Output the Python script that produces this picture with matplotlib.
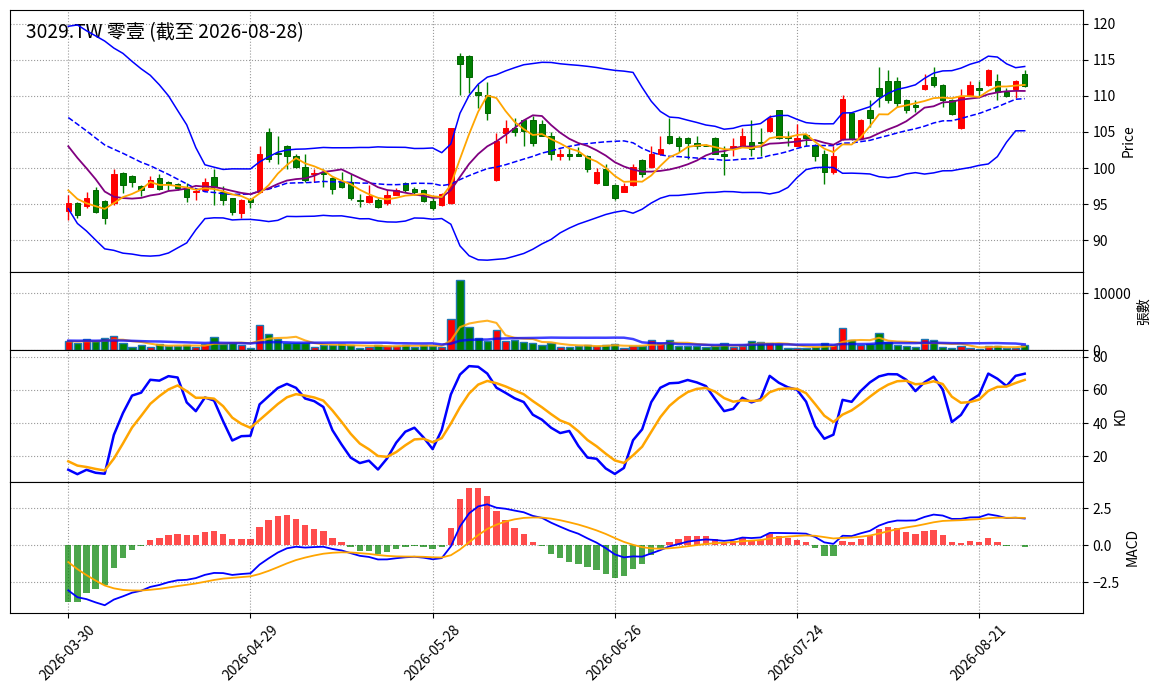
import numpy as np
import pandas as pd
import matplotlib
matplotlib.use('Agg')
import matplotlib.pyplot as plt

plt.rcParams['font.family'] = ['Noto Sans CJK TC', 'DejaVu Sans']

titulo = '3029.TW 零壹 (截至 2026-08-28)'
datas_ticks = ['2026-03-30', '2026-04-29', '2026-05-28', '2026-06-26', '2026-07-24', '2026-08-21']

# pregões anteriores (não desenhados), estimados para os indicadores começarem como no gráfico
pre_close = [103.5, 104.2, 105.0, 104.6, 105.8, 106.9, 107.5, 107.0, 108.3, 109.4, 110.1, 109.6,
             110.8, 111.9, 112.4, 112.0, 112.0, 114.5, 113.6, 112.5, 111.0, 109.0, 110.5, 109.4,
             108.0, 109.5, 109.6, 110.4, 109.0, 110.3, 106.4, 99.5, 98.9, 95.9, 95.0]
pre_high = [104.3, 105.0, 105.6, 105.5, 106.4, 107.6, 108.2, 108.0, 108.9, 110.1, 110.8, 110.5,
            111.4, 112.6, 113.1, 112.9, 113.0, 115.2, 114.8, 113.4, 112.2, 110.3, 111.1, 110.4,
            109.2, 110.0, 110.3, 111.0, 110.0, 110.9, 109.8, 103.0, 101.0, 98.5, 97.0]
pre_low = [102.8, 103.4, 104.3, 103.9, 104.9, 106.0, 106.8, 106.4, 107.3, 108.6, 109.3, 108.9,
           109.9, 111.0, 111.6, 111.2, 111.1, 113.2, 113.0, 111.8, 110.4, 108.6, 109.3, 108.7,
           107.5, 108.3, 108.9, 109.5, 108.3, 109.2, 105.8, 99.0, 97.8, 95.2, 94.2]
pre_volume = [1500, 1820, 1650, 1400, 1950, 1700, 1550, 1880, 1600, 1420, 1760, 1900, 1650,
              1580, 2000, 1450, 1620, 1540, 1620]

# 106 pregões desenhados
open_ = [94.0, 95.2, 94.7, 97.0, 95.4, 95.1, 99.3, 98.9, 97.5, 97.4,
         98.6, 98.1, 97.8, 97.4, 96.6, 97.0, 98.8, 96.7, 95.8, 93.8,
         95.7, 96.7, 105.0, 102.1, 103.1, 101.6, 100.1, 99.1, 99.4, 98.6,
         98.1, 98.1, 95.6, 95.3, 95.6, 95.2, 96.3, 97.9, 97.1, 97.0,
         95.4, 94.8, 95.1, 115.6, 115.6, 110.6, 110.1, 98.3, 104.9, 105.6,
         106.7, 106.7, 106.1, 104.5, 101.6, 102.0, 102.0, 101.7, 97.9, 99.8,
         97.7, 96.7, 97.7, 101.1, 100.1, 101.9, 104.5, 104.2, 104.2, 103.5,
         103.1, 104.2, 102.0, 102.8, 103.1, 103.6, 103.6, 105.1, 108.0, 104.3,
         103.1, 104.6, 103.2, 102.0, 99.4, 104.0, 107.7, 104.2, 108.0, 111.1,
         112.1, 112.1, 109.5, 108.7, 111.0, 112.6, 111.5, 109.5, 105.5, 110.2,
         111.1, 111.5, 112.1, 110.6, 111.0, 113.1]
high = [96.2, 95.3, 96.6, 97.4, 95.5, 99.8, 99.4, 99.0, 97.6, 98.9,
        99.2, 98.2, 97.9, 97.9, 97.2, 98.6, 99.8, 97.5, 95.9, 95.7,
        95.8, 103.1, 105.5, 104.5, 103.2, 102.0, 102.0, 99.8, 99.8, 98.7,
        99.5, 99.1, 96.4, 97.7, 95.8, 96.9, 97.2, 98.0, 97.4, 97.1,
        95.8, 96.5, 105.5, 116.0, 115.7, 111.7, 112.0, 104.8, 106.7, 107.0,
        106.8, 107.2, 106.6, 105.0, 102.6, 102.9, 102.9, 101.8, 100.0, 100.6,
        97.8, 97.9, 100.6, 101.2, 103.1, 104.5, 107.0, 104.5, 104.3, 104.5,
        103.3, 104.3, 103.1, 104.1, 105.5, 106.7, 105.6, 107.3, 108.1, 105.1,
        106.1, 104.7, 103.3, 102.5, 103.0, 110.1, 107.8, 106.8, 109.5, 114.0,
        113.6, 112.6, 109.6, 109.5, 113.1, 114.0, 111.6, 109.6, 111.0, 112.1,
        112.1, 113.7, 113.1, 111.1, 112.2, 113.6]
low = [92.8, 93.1, 94.4, 93.8, 92.2, 94.9, 96.5, 97.3, 96.1, 97.3,
       96.9, 96.9, 97.0, 95.3, 95.6, 96.9, 94.8, 94.8, 93.5, 93.1,
       94.5, 96.5, 100.9, 100.5, 99.8, 100.0, 98.0, 98.1, 97.4, 96.4,
       97.2, 95.6, 94.6, 95.1, 94.5, 94.8, 96.2, 96.7, 96.2, 95.3,
       94.1, 94.7, 95.0, 110.2, 110.4, 108.3, 106.6, 98.2, 103.5, 104.5,
       103.1, 103.0, 104.4, 101.1, 101.1, 101.1, 101.6, 99.5, 97.8, 97.6,
       95.6, 96.6, 97.5, 98.8, 100.0, 101.8, 103.4, 102.2, 101.2, 102.6,
       103.0, 101.9, 99.0, 101.6, 103.0, 101.6, 101.6, 105.0, 104.0, 103.0,
       103.0, 103.1, 101.0, 97.8, 99.2, 103.9, 103.9, 104.1, 105.7, 108.5,
       109.0, 108.5, 107.6, 107.8, 110.9, 111.2, 108.5, 107.4, 105.4, 110.1,
       110.0, 111.4, 109.5, 109.9, 109.7, 111.3]
close = [95.2, 93.5, 95.9, 93.9, 93.1, 99.2, 97.7, 98.1, 96.9, 98.4,
         97.1, 97.8, 97.2, 96.0, 96.8, 98.1, 97.3, 95.6, 93.9, 95.6,
         95.3, 102.0, 101.3, 101.9, 101.6, 100.1, 98.3, 99.3, 99.2, 97.1,
         97.3, 95.9, 95.4, 96.1, 94.6, 96.2, 97.0, 96.9, 96.6, 95.4,
         94.5, 96.4, 105.5, 114.5, 112.6, 110.1, 107.6, 103.8, 105.5, 105.0,
         105.1, 103.5, 104.5, 102.0, 102.0, 101.6, 101.6, 99.9, 99.4, 97.7,
         95.9, 97.5, 100.2, 99.2, 102.0, 102.6, 103.5, 103.0, 103.5, 103.0,
         103.0, 102.0, 101.6, 103.1, 104.5, 102.6, 103.5, 107.0, 104.1, 104.1,
         104.2, 104.1, 101.6, 99.4, 101.7, 109.6, 104.0, 106.7, 107.0, 110.0,
         109.5, 109.0, 108.0, 108.5, 111.5, 111.5, 109.4, 107.5, 110.0, 111.5,
         110.9, 113.6, 110.6, 110.0, 112.1, 111.4]
volume = [1530, 1180, 1890, 1530, 2070, 2420, 1180, 590, 830, 590,
          1120, 650, 770, 830, 590, 1000, 2360, 1000, 1240, 940,
          410, 4480, 2890, 1890, 1180, 1240, 1240, 590, 830, 830,
          1100, 830, 410, 590, 830, 710, 710, 940, 590, 940,
          710, 530, 5550, 12450, 4130, 2180, 1590, 3600, 1590, 1830,
          1475, 1240, 940, 1300, 530, 530, 770, 830, 710, 830,
          1120, 300, 710, 770, 1830, 1180, 1830, 770, 770, 770,
          600, 710, 1300, 590, 770, 1650, 1360, 1180, 1000, 350,
          350, 350, 590, 1300, 940, 3950, 1710, 940, 1120, 3070,
          1420, 940, 770, 590, 2000, 1830, 590, 350, 770, 350,
          240, 770, 770, 350, 350, 940]

n = len(close)
npre = len(pre_close)
x = np.arange(n)

# indicadores
c_all = pd.Series(pre_close + close)
h_all = pd.Series(pre_high + high)
l_all = pd.Series(pre_low + low)
ma5 = c_all.rolling(5).mean().values[npre:]
ma10 = c_all.rolling(10).mean().values[npre:]
ma20 = c_all.rolling(20).mean()
sd20 = c_all.rolling(20).std()
bb_up = (ma20 + 2 * sd20).values[npre:]
bb_lo = (ma20 - 2 * sd20).values[npre:]
bb_mid = ma20.values[npre:]

low9 = l_all.rolling(9, min_periods=1).min()
high9 = h_all.rolling(9, min_periods=1).max()
rsv = ((c_all - low9) / (high9 - low9) * 100).fillna(50).values
k_list, d_list = [], []
k_prev, d_prev = 50.0, 50.0
for r in rsv:
    k_prev = k_prev * 2 / 3 + r / 3
    d_prev = d_prev * 2 / 3 + k_prev / 3
    k_list.append(k_prev)
    d_list.append(d_prev)
k_val = np.array(k_list)[npre:]
d_val = np.array(d_list)[npre:]

ema12 = c_all.ewm(span=12, adjust=False).mean()
ema26 = c_all.ewm(span=26, adjust=False).mean()
dif_all = ema12 - ema26
dea_all = dif_all.ewm(span=9, adjust=False).mean()
dif = dif_all.values[npre:]
dea = dea_all.values[npre:]
osc = 2 * (dif - dea)

v_all = pd.Series(pre_volume + volume)
vpre = len(pre_volume)
vma5 = v_all.rolling(5).mean().values[vpre:]
vma20 = v_all.rolling(20).mean().values[vpre:]

o = np.array(open_)
c = np.array(close)
up = c >= o
cor = np.where(up, 'red', 'green')

# figura
fig = plt.figure(figsize=(11.63, 6.98), dpi=100)
L, W = 10 / 1163, 1073 / 1163
ax1 = fig.add_axes([L, 426 / 698, W, 262 / 698])
ax2 = fig.add_axes([L, 348 / 698, W, 78 / 698], sharex=ax1)
ax3 = fig.add_axes([L, 216 / 698, W, 132 / 698], sharex=ax1)
ax4 = fig.add_axes([L, 85 / 698, W, 131 / 698], sharex=ax1)

# candles
ax1.vlines(x, low, high, colors=cor, linewidth=1, zorder=2)
corpo = np.maximum(np.abs(c - o), 0.06)
ax1.bar(x, corpo, bottom=np.minimum(o, c), width=0.6, color=cor,
        edgecolor=np.where(up, 'red', '#006400'), linewidth=0.7, zorder=3)
ax1.plot(x, bb_up, color='blue', linewidth=1.1, zorder=4)
ax1.plot(x, bb_lo, color='blue', linewidth=1.1, zorder=4)
ax1.plot(x, bb_mid, color='blue', linewidth=1.1, linestyle='--', zorder=4)
ax1.plot(x, ma10, color='purple', linewidth=1.3, zorder=4)
ax1.plot(x, ma5, color='orange', linewidth=1.3, zorder=4)
ax1.set_ylim(85.56, 121.94)
ax1.set_yticks(range(90, 121, 5))
ax1.set_ylabel('Price', fontsize=10)
ax1.text(0.015, 0.955, titulo, transform=ax1.transAxes, fontsize=13.8, va='top', ha='left')

# volume
ax2.bar(x, volume, width=0.8, color=cor, edgecolor='#1f77b4', linewidth=1, zorder=2)
ax2.plot(x, vma5, color='orange', linewidth=1.5, alpha=0.85, zorder=3)
ax2.plot(x, vma20, color='blue', linewidth=1.8, alpha=0.75, zorder=3)
ax2.set_ylim(0, 13780)
ax2.set_yticks([0, 10000])
ax2.set_ylabel('張數', fontsize=10)

# KD
ax3.plot(x, k_val, color='blue', linewidth=1.8)
ax3.plot(x, d_val, color='orange', linewidth=1.8)
ax3.set_ylim(4.5, 84)
ax3.set_yticks([20, 40, 60, 80])
ax3.set_ylabel('KD', fontsize=10)

# MACD
ax4.bar(x, osc, width=0.7, color=np.where(osc >= 0, 'red', 'green'), alpha=0.7, zorder=2)
ax4.plot(x, dif, color='blue', linewidth=1.3, zorder=3)
ax4.plot(x, dea, color='orange', linewidth=1.3, zorder=3)
ax4.set_ylim(-4.57, 4.28)
ax4.set_yticks([-2.5, 0, 2.5])
ax4.set_ylabel('MACD', fontsize=10)

ax4.set_xlim(-6.4, 111.4)
ax4.set_xticks(range(0, n, 20))
ax4.set_xticklabels(datas_ticks, rotation=45, fontsize=10)

for ax in (ax1, ax2, ax3, ax4):
    ax.yaxis.tick_right()
    ax.yaxis.set_label_position('right')
    ax.tick_params(axis='y', labelsize=10)
    ax.grid(True, linestyle=':', color='#999999', linewidth=0.8)
    ax.set_axisbelow(True)
for ax in (ax1, ax2, ax3):
    ax.tick_params(axis='x', bottom=False, labelbottom=False)

fig.savefig('out.png', dpi=100)
